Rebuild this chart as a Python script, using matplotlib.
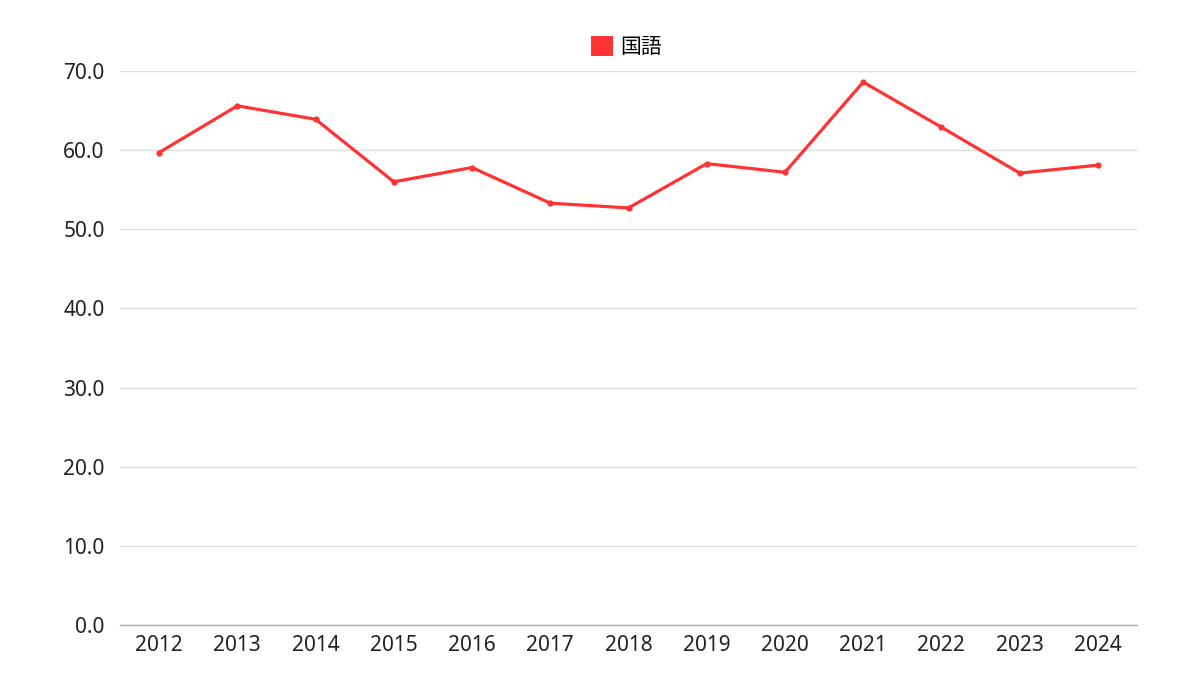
import matplotlib
matplotlib.use("Agg")
import matplotlib.pyplot as plt
from matplotlib.patches import Patch

plt.rcParams['font.family'] = ['Noto Sans', 'Noto Sans CJK JP', 'DejaVu Sans']

years = ["2012", "2013", "2014", "2015", "2016", "2017", "2018",
         "2019", "2020", "2021", "2022", "2023", "2024"]
kokugo = [59.7, 65.6, 63.9, 56.0, 57.8, 53.3, 52.7, 58.3, 57.2, 68.6, 62.9, 57.1, 58.1]
series_name = "国語"
yticks = [0, 10, 20, 30, 40, 50, 60, 70]

color = "#FF3333"

fig = plt.figure(figsize=(12, 6.75), dpi=100)
ax = fig.add_axes([120/1200, 50/675, (1137-120)/1200, (625-71)/675])

x = list(range(len(years)))
ax.plot(x, kokugo, color=color, linewidth=2.3, marker='o', markersize=4.5,
        markeredgewidth=0, solid_joinstyle='round', zorder=3)

ax.set_xlim(-0.5, len(years) - 0.5)
ax.set_ylim(0, 70)
ax.set_yticks(yticks)
ax.set_yticklabels([f"{v:.1f}" for v in yticks])
ax.set_xticks(x)
ax.set_xticklabels(years)

ax.grid(axis='y', color='#dddddd', linewidth=1)
ax.set_axisbelow(True)
for s in ['top', 'right', 'left']:
    ax.spines[s].set_visible(False)
ax.spines['bottom'].set_color('#aaaaaa')
ax.spines['bottom'].set_linewidth(1)
ax.tick_params(axis='both', length=0, labelsize=15, colors='#222222')
ax.tick_params(axis='y', pad=11)
ax.tick_params(axis='x', pad=7)

handles = [Patch(facecolor=color, edgecolor='none', label=series_name)]
fig.legend(handles=handles, loc='center', bbox_to_anchor=(626/1200, 1 - 47/675),
           frameon=False, fontsize=15, handlelength=1.1, handleheight=1.1,
           handletextpad=0.3, borderpad=0,
           prop={'family': ['Noto Sans CJK JP', 'DejaVu Sans'], 'size': 15})

fig.savefig("out.png", dpi=100)
